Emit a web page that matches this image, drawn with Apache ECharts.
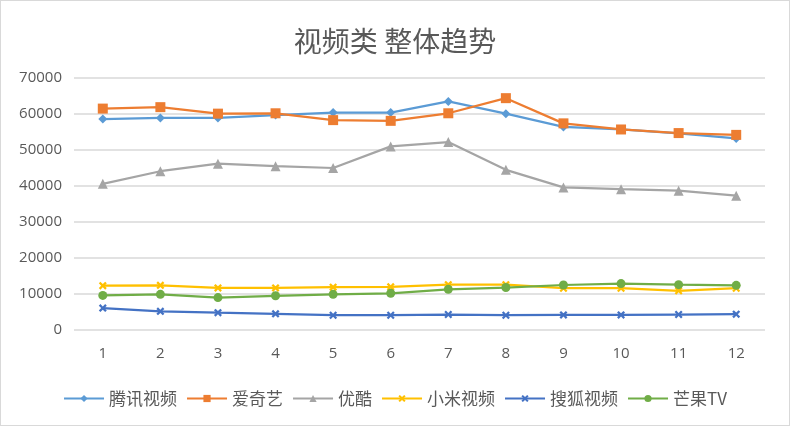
<!DOCTYPE html>
<html><head><meta charset="utf-8">
<script src="https://cdn.jsdelivr.net/npm/echarts@6/dist/echarts.min.js"></script>
<style>html,body{margin:0;padding:0;background:#fff}#c{width:790px;height:426px;box-sizing:border-box;border:1px solid #d9d9d9}</style>
</head><body><div id="c"></div>
<script>
const categories = ['1','2','3','4','5','6','7','8','9','10','11','12'];
const tencent = [58600,58900,58900,59700,60400,60400,63500,60100,56400,55700,54600,53200];
const iqiyi = [61500,61900,60100,60200,58300,58100,60200,64400,57400,55700,54700,54200];
const youku = [40600,44100,46200,45500,45000,51000,52200,44500,39600,39100,38700,37300];
const xiaomi = [12300,12400,11700,11700,11900,12000,12600,12600,11600,11600,10900,11600];
const sohu = [6100,5200,4800,4500,4100,4100,4300,4100,4200,4200,4300,4400];
const mango = [9600,9900,9000,9500,9900,10200,11300,11800,12500,12900,12600,12400];
const names = ['腾讯视频','爱奇艺','优酷','小米视频','搜狐视频','芒果TV'];
const yTicks = [0,10000,20000,30000,40000,50000,60000,70000];

const X = 'path://M0,2 L2,0 L5,3 L8,0 L10,2 L7,5 L10,8 L8,10 L5,7 L2,10 L0,8 L3,5 Z';
const colors = ['#5B9BD5','#ED7D31','#A5A5A5','#FFC000','#4472C4','#70AD47'];
const symbols = ['diamond','rect','triangle',X,X,'circle'];
const sizes = [9,10,10,8,8,9];
const data = [tencent,iqiyi,youku,xiaomi,sohu,mango];

const chart = echarts.init(document.getElementById('c'));
chart.setOption({
  animation:false,
  title:{text:'视频类 整体趋势',left:'center',top:21,textStyle:{fontFamily:'Noto Sans CJK SC',fontSize:28,fontWeight:'normal',color:'#595959'}},
  grid:{left:73,right:24,top:77,bottom:95},
  legend:{bottom:13,left:'center',itemWidth:40,itemHeight:9,itemGap:9,
    textStyle:{fontFamily:'Noto Sans CJK SC',fontSize:17,color:'#595959'},data:names},
  xAxis:{type:'category',data:categories,boundaryGap:true,
    axisLine:{show:false},axisTick:{show:false},
    axisLabel:{margin:16,fontFamily:'Open Sans',fontSize:15,color:'#595959'}},
  yAxis:{type:'value',min:yTicks[0],max:yTicks[yTicks.length-1],interval:10000,
    axisLine:{show:false},axisTick:{show:false},
    splitLine:{lineStyle:{color:'#d9d9d9',width:1.5}},
    axisLabel:{margin:12,fontFamily:'Open Sans',fontSize:15,color:'#595959',formatter:v=>String(v)}},
  series:names.map((n,i)=>({name:n,type:'line',data:data[i],symbol:symbols[i],symbolSize:sizes[i],
    showAllSymbol:true,lineStyle:{color:colors[i],width:2.25},itemStyle:{color:colors[i]}}))
});
</script></body></html>
